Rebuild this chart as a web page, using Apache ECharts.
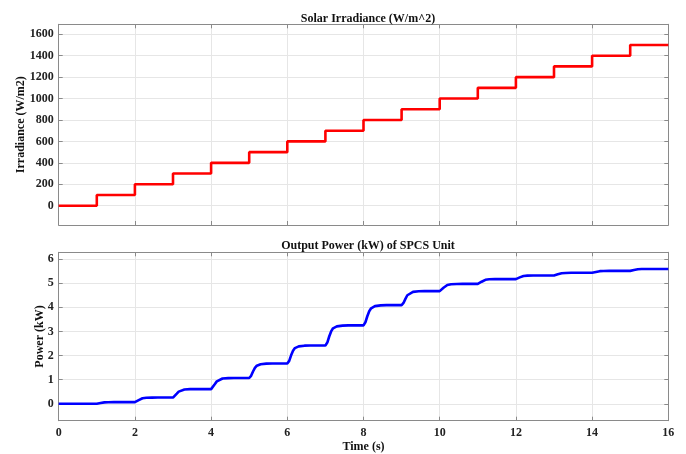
<!DOCTYPE html>
<html>
<head>
<meta charset="utf-8">
<script src="https://cdn.jsdelivr.net/npm/echarts@6/dist/echarts.min.js"></script>
<style>html,body{margin:0;padding:0;background:#fff}#c{width:686px;height:454px}</style>
</head>
<body>
<div id="c"></div>
<script>
// ---- data ----
var irrTime  = [0,1,2,3,4,5,6,7,8,9,10,11,12,13,14,15,16];
var irrValue = [0,100,200,300,400,500,600,700,800,900,1000,1100,1200,1300,1400,1500,1500];
var irrTicks = [0,200,400,600,800,1000,1200,1400,1600];

var powTime = [
  0,
  1,1.05,1.1,1.15,1.2,1.3,1.45,1.6,
  2,2.05,2.1,2.15,2.2,2.3,2.45,2.6,
  3,3.05,3.1,3.15,3.2,3.3,3.45,3.6,
  4,4.05,4.1,4.15,4.2,4.3,4.45,4.6,
  5,5.05,5.1,5.15,5.2,5.3,5.45,5.6,
  6,6.05,6.1,6.15,6.2,6.3,6.45,6.6,
  7,7.05,7.1,7.15,7.2,7.3,7.45,7.6,
  8,8.05,8.1,8.15,8.2,8.3,8.45,8.6,
  9,9.05,9.1,9.15,9.2,9.3,9.45,9.6,
  10,10.05,10.1,10.15,10.2,10.3,10.45,10.6,
  11,11.05,11.1,11.15,11.2,11.3,11.45,11.6,
  12,12.05,12.1,12.15,12.2,12.3,12.45,12.6,
  13,13.05,13.1,13.15,13.2,13.3,13.45,13.6,
  14,14.05,14.1,14.15,14.2,14.3,14.45,14.6,
  15,15.05,15.1,15.15,15.2,15.3,15.45,15.6,
  16
];
var powValue = [
  0,
  0,0.01,0.03,0.05,0.06,0.067,0.07,0.07,
  0.07,0.10,0.155,0.20,0.23,0.25,0.258,0.26,
  0.26,0.31,0.42,0.505,0.56,0.59,0.607,0.61,
  0.61,0.68,0.82,0.93,1.0,1.05,1.065,1.07,
  1.07,1.16,1.34,1.49,1.58,1.64,1.664,1.67,
  1.67,1.78,2.01,2.20,2.31,2.38,2.41,2.42,
  2.42,2.54,2.79,3.0,3.13,3.21,3.24,3.25,
  3.25,3.38,3.63,3.84,3.96,4.05,4.08,4.09,
  4.09,4.18,4.35,4.50,4.58,4.64,4.664,4.67,
  4.67,4.72,4.81,4.88,4.925,4.955,4.967,4.97,
  4.97,5.0,5.06,5.11,5.14,5.16,5.168,5.17,
  5.17,5.19,5.24,5.275,5.30,5.313,5.318,5.32,
  5.32,5.34,5.37,5.40,5.414,5.425,5.43,5.43,
  5.43,5.44,5.465,5.486,5.498,5.506,5.51,5.51,
  5.51,5.52,5.546,5.566,5.578,5.586,5.59,5.59,
  5.59
];
var powTicks = [0,1,2,3,4,5,6];

// ---- chart ----
function zip(a,b){var r=[];for(var i=0;i<a.length;i++)r.push([a[i],b[i]]);return r;}
var FONT = 'Liberation Serif';
var frame = {show:true, onZero:false, lineStyle:{color:'#8a8a8a', width:1}};
var gridLine = {show:true, lineStyle:{color:'#e6e6e6', width:1}};
var lbl = {fontFamily:FONT, fontWeight:'bold', fontSize:12, color:'#222', formatter:function(v){return String(v);}};
function xAx(gi, pos, showLbl, name){
  return {type:'value', gridIndex:gi, position:pos, min:0, max:16, interval:2,
    axisLine:frame, axisTick:{show:true, inside:true, length:4, lineStyle:{color:'#8a8a8a'}},
    splitLine: pos==='bottom'?gridLine:{show:false},
    axisLabel: showLbl?Object.assign({margin:6},lbl):{show:false},
    name: name||'', nameLocation:'middle', nameGap:20, nameMoveOverlap:false,
    nameTextStyle:{fontFamily:FONT, fontWeight:'bold', fontSize:12, color:'#111'}};
}
function yAx(gi, pos, min, max, ticks, showLbl, name, gap){
  return {type:'value', gridIndex:gi, position:pos, min:min, max:max,
    axisLine:frame,
    axisTick:{show:true, inside:true, length:4, customValues:ticks, lineStyle:{color:'#8a8a8a'}},
    splitLine: pos==='left'?gridLine:{show:false},
    axisLabel: showLbl?Object.assign({margin:5, customValues:ticks},lbl):{show:false, customValues:ticks},
    name:name||'', nameLocation:'middle', nameGap:gap||30, nameRotate:90, nameMoveOverlap:false,
    nameTextStyle:{fontFamily:FONT, fontWeight:'bold', fontSize:12, color:'#111'}};
}
var chart = echarts.init(document.getElementById('c'), null, {renderer:'canvas'});
chart.setOption({
  animation:false,
  backgroundColor:'#fff',
  title:[
    {text:'Solar Irradiance (W/m^2)', left:363, top:8, textAlign:'center',
     textStyle:{fontFamily:FONT, fontWeight:'bold', fontSize:12, color:'#111'}},
    {text:'Output Power (kW) of SPCS Unit', left:363, top:235, textAlign:'center',
     textStyle:{fontFamily:FONT, fontWeight:'bold', fontSize:12, color:'#111'}}
  ],
  grid:[
    {left:58.7, right:17.7, top:24.3, height:200.7},
    {left:58.7, right:17.7, top:252.3, height:168.4}
  ],
  xAxis:[
    xAx(0,'bottom',false), xAx(0,'top',false),
    xAx(1,'bottom',true,'Time (s)'), xAx(1,'top',false)
  ],
  yAxis:[
    yAx(0,'left',-180,1693,irrTicks,true,'Irradiance (W/m2)',32),
    yAx(0,'right',-180,1693,irrTicks,false),
    yAx(1,'left',-0.7,6.28,powTicks,true,'Power (kW)',13),
    yAx(1,'right',-0.7,6.28,powTicks,false)
  ],
  series:[
    {type:'line', xAxisIndex:0, yAxisIndex:0, step:'end', showSymbol:false,
     data:zip(irrTime, irrValue), lineStyle:{color:'#ff0000', width:2.6}},
    {type:'line', xAxisIndex:2, yAxisIndex:2, showSymbol:false, smooth:false,
     data:zip(powTime, powValue), lineStyle:{color:'#0000ff', width:2.6}}
  ]
});
</script>
</body>
</html>
